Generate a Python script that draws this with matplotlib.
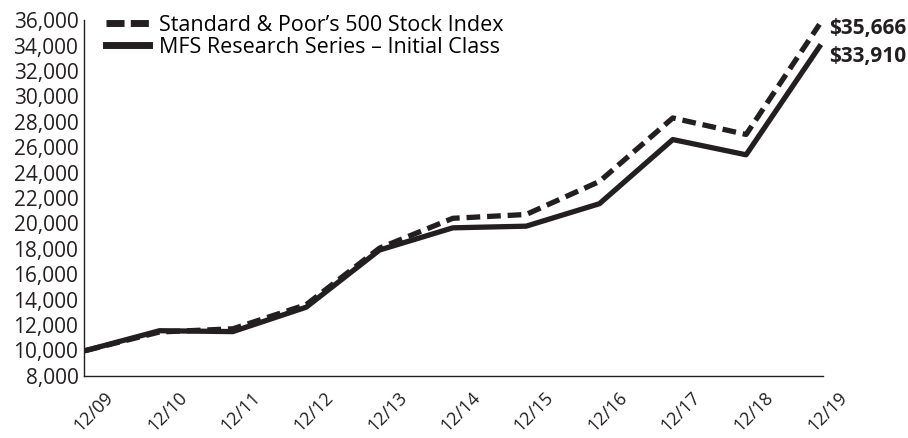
import matplotlib
matplotlib.use("Agg")
import matplotlib.pyplot as plt
import matplotlib.transforms as mtransforms
from matplotlib.ticker import FuncFormatter

plt.rcParams['font.family'] = ['Open Sans', 'DejaVu Sans']

years = ["12/09", "12/10", "12/11", "12/12", "12/13", "12/14", "12/15", "12/16", "12/17", "12/18", "12/19"]
sp500 = [10000, 11450, 11700, 13600, 18050, 20400, 20700, 23300, 28300, 27000, 35666]
mfs = [10000, 11550, 11480, 13400, 17900, 19650, 19780, 21550, 26600, 25400, 33910]
yticks = list(range(8000, 36001, 2000))

fs = 15
fig = plt.figure(figsize=(9.08, 4.38), dpi=100)
ax = fig.add_axes([0.0925, 0.142, 0.814, 0.812])
x = list(range(len(years)))
ax.plot(x, sp500, color='#231f20', lw=3.8, linestyle=(0, (2.6, 1.3)),
        label="Standard & Poor\u2019s 500 Stock Index", solid_capstyle='butt')
ax.plot(x, mfs, color='#231f20', lw=3.8, label="MFS Research Series \u2013 Initial Class")
ax.set_xlim(-0.03, 10.05)
ax.set_ylim(8000, 36000)
ax.set_yticks(yticks)
ax.yaxis.set_major_formatter(FuncFormatter(lambda v, p: f"{int(v):,}"))
ax.set_xticks(x)
ax.set_xticklabels(years, rotation=45, ha='center', va='center', rotation_mode='anchor', fontsize=13)
ax.tick_params(length=0, colors='#231f20', pad=4)
ax.tick_params(axis='y', labelsize=fs)
ax.tick_params(axis='x', pad=26)
shift = mtransforms.ScaledTranslation(8 / 100, 0, fig.dpi_scale_trans)
for lab in ax.get_xticklabels():
    lab.set_transform(lab.get_transform() + shift)
for s in ['top', 'right']:
    ax.spines[s].set_visible(False)
for s in ['left', 'bottom']:
    ax.spines[s].set_color('#231f20')
    ax.spines[s].set_linewidth(1.0)

leg = ax.legend(loc='upper left', bbox_to_anchor=(0.003, 1.07), frameon=False, fontsize=fs + 0.5,
                handlelength=2.0, handletextpad=0.5, labelspacing=0.05)
lines = leg.get_lines()
for h in lines:
    h.set_linewidth(5)
lines[0].set_linestyle((0, (2.6, 0.9)))
lines[0].set_dash_capstyle('butt')
ax.annotate(f"${sp500[-1]:,}", xy=(1.0, sp500[-1]), xycoords=ax.get_yaxis_transform(),
            xytext=(4, -3), textcoords='offset points', fontsize=fs,
            fontweight='bold', va='center', ha='left', color='#231f20')
ax.annotate(f"${mfs[-1]:,}", xy=(1.0, mfs[-1]), xycoords=ax.get_yaxis_transform(),
            xytext=(4, -7), textcoords='offset points', fontsize=fs,
            fontweight='bold', va='center', ha='left', color='#231f20')
fig.savefig("out.png", dpi=100)
